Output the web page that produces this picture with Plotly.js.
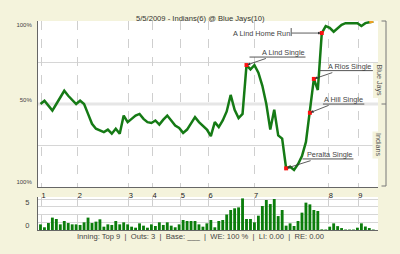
<!DOCTYPE html>
<html><head><meta charset="utf-8">
<script src="https://cdn.plot.ly/plotly-3.0.1.min.js"></script>
<style>html,body{margin:0;padding:0;background:#f4f3dc;}#chart{width:400px;height:254px;}</style>
</head><body><div id="chart"></div>
<script>
// Blue Jays win expectancy after each plate appearance
const winExp = [0.50,0.52,0.49,0.46,0.50,0.54,0.58,0.55,0.525,0.50,
0.52,0.50,0.44,0.38,0.35,0.34,0.33,0.345,0.32,0.35,
0.32,0.43,0.39,0.41,0.43,0.44,0.41,0.39,0.385,0.40,
0.375,0.405,0.43,0.40,0.37,0.355,0.325,0.345,0.38,0.42,
0.39,0.367,0.345,0.305,0.39,0.36,0.40,0.455,0.555,0.465,
0.415,0.44,0.736,0.71,0.735,0.69,0.61,0.50,0.345,0.465,
0.31,0.29,0.11,0.12,0.10,0.135,0.185,0.27,0.447,0.652,
0.585,0.93,0.972,0.962,0.938,0.962,0.98,0.99,0.99,0.99,
0.99,0.973,0.99,0.995,1.0];
// Leverage index for each plate appearance
const leverage = [0.73,0.35,0.9,1.6,1.42,0.73,1.16,0.9,0.73,0.73,
0.65,0.99,1.6,0.9,1.08,1.38,0.43,0.73,0.65,1.16,
0.73,0.99,0.73,0.43,0.3,0.86,0.56,0.3,0.73,0.52,
0.99,0.65,0.99,0.56,0.35,0.73,1.29,1.16,1.16,1.16,
0.73,0.43,0.86,1.29,0.35,1.16,1.29,2.0,2.58,2.8,
2.92,4.08,1.42,1.42,0.99,1.85,3.1,3.87,3.35,4.0,
1.8,2.58,0.56,0.86,0.52,1.16,2.24,3.53,3.31,2.58,
2.45,0.08,0.06,0.43,0.86,0.5,0.25,0.06,0.06,0.06,
0.3,0.86,0.45,0.25,0.06];
const inningPos = [0.3,9.4,22.3,28.3,35.4,42.4,53.9,72.8,80.2];
const inningLabels = ['1','2','3','4','5','6','7','8','9'];
const eventIdx = [52,71,69,68,62];
const eventLabels = ['A Lind Single','A Lind Home Run','A Rios Single','A Hill Single','Peralta Single'];
const weTicks = [0.979,0.524,0.027];
const weTickText = ['100%','50%','100%'];
const liTicks = [0.65,3.6];
const liTickText = ['0','5'];
const titleText = '5/5/2009 - Indians(6) @ Blue Jays(10)';
const statusText = 'Inning: Top 9  |  Outs: 3  |  Base: ___  |  WE: 100 %  |  LI: 0.00  |  RE: 0.00';

const idx = winExp.map((_, i) => i);
const px = x => (x - 38) / 340;
const py = y => (230 - y) / 209;
const FONT = 'Liberation Sans, Arial, sans-serif';
const BG = '#f4f3dc';

const traces = [
  {x: idx, y: winExp, type: 'scatter', mode: 'lines', line: {color: '#157a15', width: 2.5}, xaxis: 'x', yaxis: 'y', hoverinfo: 'skip'},
  {x: idx.slice(-2), y: winExp.slice(-2), type: 'scatter', mode: 'lines', line: {color: '#f0a020', width: 2.5}, xaxis: 'x', yaxis: 'y', hoverinfo: 'skip'},
  {x: eventIdx, y: eventIdx.map(i => winExp[i]), type: 'scatter', mode: 'markers', marker: {color: '#ff1010', size: 4, symbol: 'square'}, xaxis: 'x', yaxis: 'y'},
  {x: idx, y: leverage, type: 'bar', width: 0.72, marker: {color: '#0b7d0b', line: {width: 0}}, xaxis: 'x2', yaxis: 'y2'}
];

// annotation placement (text offset from point, underline offsets), pixels
const annStyle = [
  {ax: 37, ay: -12.6, ul: [3, 59, 8]},
  {ax: -60, ay: 0, ul: null, bar: -30.6},
  {ax: 36, ay: -12.3, ul: [6, 59, 8.3]},
  {ax: 34, ay: -13.4, ul: [13, 54.4, 8.7]},
  {ax: 43.6, ay: -13.7, ul: [16.3, 67.3, 9.4]}
];

const annotations = eventIdx.map((ei, k) => ({
  x: ei, y: winExp[ei], xref: 'x', yref: 'y', text: eventLabels[k],
  showarrow: true, ax: annStyle[k].ax, ay: annStyle[k].ay,
  arrowhead: 2, arrowsize: 0.7, arrowwidth: 0.8, arrowcolor: '#333', standoff: 1,
  font: {family: FONT, size: 7.3, color: '#444'}
}));
annotations.push(
  {xref: 'paper', yref: 'paper', x: px(200), y: py(11.5), text: titleText, showarrow: false,
   font: {family: FONT, size: 7.6, color: '#333'}},
  {xref: 'paper', yref: 'paper', x: px(200.5), y: py(243.3), text: statusText, showarrow: false,
   font: {family: FONT, size: 7.6, color: '#444'}},
  {xref: 'paper', yref: 'paper', x: px(385.5), y: py(62.5), text: 'Blue Jays', textangle: 90, showarrow: false,
   bgcolor: BG, borderpad: 1, font: {family: FONT, size: 7.2, color: '#555'}},
  {xref: 'paper', yref: 'paper', x: px(385.5), y: py(145), text: 'Indians', textangle: 90, showarrow: false,
   bgcolor: BG, borderpad: 1, font: {family: FONT, size: 7.2, color: '#555'}}
);

const shapes = [
  {type: 'line', xref: 'paper', yref: 'y', x0: 0, x1: 1, y0: 0.5, y1: 0.5, line: {color: '#e6e6e6', width: 3}, layer: 'below'},
  {type: 'line', xref: 'paper', yref: 'paper', x0: px(386), x1: px(386), y0: py(21), y1: py(186), line: {color: '#777', width: 1}, layer: 'below'},
  {type: 'line', xref: 'paper', yref: 'paper', x0: px(381.5), x1: px(386), y0: py(21), y1: py(21), line: {color: '#777', width: 1}},
  {type: 'line', xref: 'paper', yref: 'paper', x0: px(381.5), x1: px(386), y0: py(104), y1: py(104), line: {color: '#777', width: 1}},
  {type: 'line', xref: 'paper', yref: 'paper', x0: px(381.5), x1: px(386), y0: py(186), y1: py(186), line: {color: '#777', width: 1}}
];
eventIdx.forEach((ei, k) => {
  const s = annStyle[k];
  if (s.ul) {
    shapes.push({type: 'line', xref: 'x', yref: 'y', xsizemode: 'pixel', ysizemode: 'pixel',
      xanchor: ei, yanchor: winExp[ei], x0: s.ul[0], x1: s.ul[1], y0: s.ul[2], y1: s.ul[2],
      line: {color: '#555', width: 1}});
  }
  if (s.bar !== undefined) {
    shapes.push({type: 'line', xref: 'x', yref: 'y', xsizemode: 'pixel', ysizemode: 'pixel',
      xanchor: ei, yanchor: winExp[ei], x0: s.bar, x1: s.bar, y0: -3, y1: 5,
      line: {color: '#555', width: 1}});
  }
});

const xBase = {range: [-0.63, 85.19], tickmode: 'array', tickvals: inningPos, showgrid: true,
  griddash: 'dash', gridcolor: '#cfcfcf', gridwidth: 1, zeroline: false, showline: true,
  linecolor: '#666', linewidth: 1, ticks: '', fixedrange: true};

const layout = {
  width: 400, height: 254,
  margin: {l: 38, r: 22, t: 21, b: 24, pad: 0},
  paper_bgcolor: BG, plot_bgcolor: '#ffffff',
  showlegend: false, hovermode: false,
  xaxis: Object.assign({}, xBase, {domain: [0, 1], anchor: 'y', ticktext: inningLabels, showticklabels: true,
    tickfont: {family: FONT, size: 7.5, color: '#222'}, ticklabelshift: 2, ticklabelstandoff: 1}),
  yaxis: {domain: [(230 - 187) / 209, 1], range: [-0.003, 1.003], tickmode: 'array', tickvals: weTicks,
    ticktext: weTickText, showgrid: false, zeroline: false, showline: true, linecolor: '#666', linewidth: 1,
    ticks: '', ticklabelstandoff: 4, tickfont: {family: FONT, size: 6, color: '#444'},
    minor: {tickmode: 'array', tickvals: [0.25, 0.75], showgrid: true, gridcolor: '#d6d6d6', gridwidth: 1, ticks: ''}},
  xaxis2: Object.assign({}, xBase, {domain: [0, 1], anchor: 'y2', showticklabels: false}),
  yaxis2: {domain: [0, (230 - 197) / 209], range: [0, 4.26], tickmode: 'array', tickvals: liTicks,
    ticktext: liTickText, showgrid: false, zeroline: false, showline: true, linecolor: '#666', linewidth: 1,
    ticks: '', ticklabelstandoff: 6, tickfont: {family: FONT, size: 7.5, color: '#444'},
    minor: {tickmode: 'array', tickvals: [1, 2, 3, 4], showgrid: true, gridcolor: '#d6d6d6', gridwidth: 1, ticks: ''}},
  annotations: annotations,
  shapes: shapes
};

Plotly.newPlot('chart', traces, layout, {staticPlot: true, displayModeBar: false});
</script>
</body></html>
